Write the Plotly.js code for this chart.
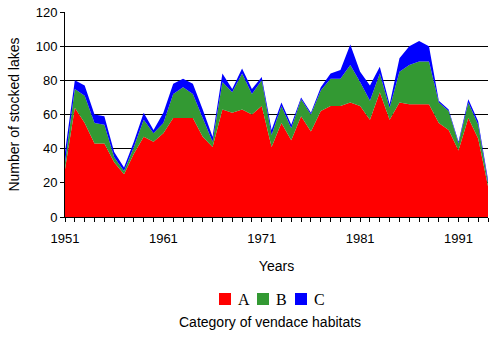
<!DOCTYPE html>
<html>
<head>
<meta charset="utf-8">
<script src="https://cdn.plot.ly/plotly-3.0.1.min.js"></script>
<style>html,body{margin:0;padding:0;background:#fff;}#chart{width:497px;height:337px;}</style>
</head>
<body>
<div id="chart"></div>
<script>
// Years 1951..1994
const years = [1951,1952,1953,1954,1955,1956,1957,1958,1959,1960,
               1961,1962,1963,1964,1965,1966,1967,1968,1969,1970,
               1971,1972,1973,1974,1975,1976,1977,1978,1979,1980,
               1981,1982,1983,1984,1985,1986,1987,1988,1989,1990,
               1991,1992,1993,1994];
// Category A (red)
const catA = [28,64,55,43,43,32,25,37,47,44,
              49,58,58,58,47,41,63,61,63,60,
              65,41,55,45,59,50,62,65,65,67,
              65,57,73,57,67,66,66,66,55,51,
              39,58,46,18];
// Category B (green)
const catB = [4,11,16,12,11,3,2,4,10,5,
              6,14,18,14,11,3,16,12,21,12,
              15,7,10,7,10,10,12,16,16,22,
              14,11,11,7,18,23,25,25,12,11,
              4,9,8,2];
// Category C (blue)
const catC = [6,5,6,5,5,3,2,3,4,2,
              6,6,5,6,5,3,5,2,3,3,
              2,3,2,2,1,1,2,3,5,12,
              6,9,4,2,8,11,12,9,1,1,
              1,2,2,2];
const seriesNames = ['A','B','C'];
const seriesColors = ['#FF0000','#339933','#0000FF'];
const yTicks = [0,20,40,60,80,100,120];
const xTickLabels = ['1951','1961','1971','1981','1991'];

const seriesData = [catA, catB, catC];
const traces = seriesData.map((vals, i) => ({
  type: 'scatter',
  mode: 'lines',
  x: years,
  y: vals,
  stackgroup: 'one',
  line: {width: 0, color: seriesColors[i]},
  fillcolor: seriesColors[i],
  name: seriesNames[i],
  showlegend: false,
  hoverinfo: 'skip'
}));

// Legend drawn as squares + letters (below the axis title)
const legendShapes = [];
const legendAnn = [];
const sqX = [219, 257, 295];
seriesNames.forEach((n, i) => {
  legendShapes.push({
    type: 'rect', xref: 'paper', yref: 'paper',
    x0: (sqX[i] - 65) / 423, x1: (sqX[i] + 12 - 65) / 423,
    y0: (217 - 305) / 205, y1: (217 - 293) / 205,
    fillcolor: seriesColors[i], line: {width: 0}
  });
  legendAnn.push({
    xref: 'paper', yref: 'paper',
    x: (sqX[i] + 17 - 65) / 423, y: (217 - 299) / 205,
    xanchor: 'left', yanchor: 'middle', showarrow: false,
    text: n,
    font: {family: 'Liberation Serif, Times New Roman, serif', size: 16, color: '#000'}
  });
});
legendAnn.push({
  xref: 'paper', yref: 'paper',
  x: (270 - 65) / 423, y: (217 - 322) / 205,
  xanchor: 'center', yanchor: 'middle', showarrow: false,
  text: 'Category of vendace habitats',
  font: {family: 'Liberation Sans, Arial, sans-serif', size: 14, color: '#000'}
});

const layout = {
  width: 497, height: 337,
  margin: {l: 65, r: 9, t: 12, b: 120, pad: 0},
  paper_bgcolor: '#fff', plot_bgcolor: '#fff',
  font: {family: 'Liberation Sans, Arial, sans-serif', size: 13, color: '#000'},
  showlegend: false,
  xaxis: {
    range: [1951, 1994],
    tickmode: 'array',
    tickvals: xTickLabels.map(Number),
    ticktext: xTickLabels,
    ticks: 'outside', ticklen: 4, tickcolor: '#000', tickwidth: 1,
    ticklabelstandoff: 5,
    minor: {dtick: 1, tick0: 1951, ticks: 'outside', ticklen: 4, tickcolor: '#000', showgrid: false},
    showgrid: false, zeroline: false,
    showline: true, linecolor: '#000', linewidth: 1,
    tickfont: {size: 13},
    title: {text: 'Years', font: {size: 14}, standoff: 16}
  },
  yaxis: {
    range: [0, 120],
    tickmode: 'array', tickvals: yTicks,
    ticks: 'outside', ticklen: 4, tickcolor: '#000',
    showgrid: true, gridcolor: '#000', gridwidth: 1,
    zeroline: false,
    showline: true, linecolor: '#000', linewidth: 1,
    tickfont: {size: 13},
    title: {text: 'Number of stocked lakes', font: {size: 14}, standoff: 12}
  },
  shapes: legendShapes,
  annotations: legendAnn
};

Plotly.newPlot('chart', traces, layout, {displayModeBar: false, staticPlot: true});
</script>
</body>
</html>
